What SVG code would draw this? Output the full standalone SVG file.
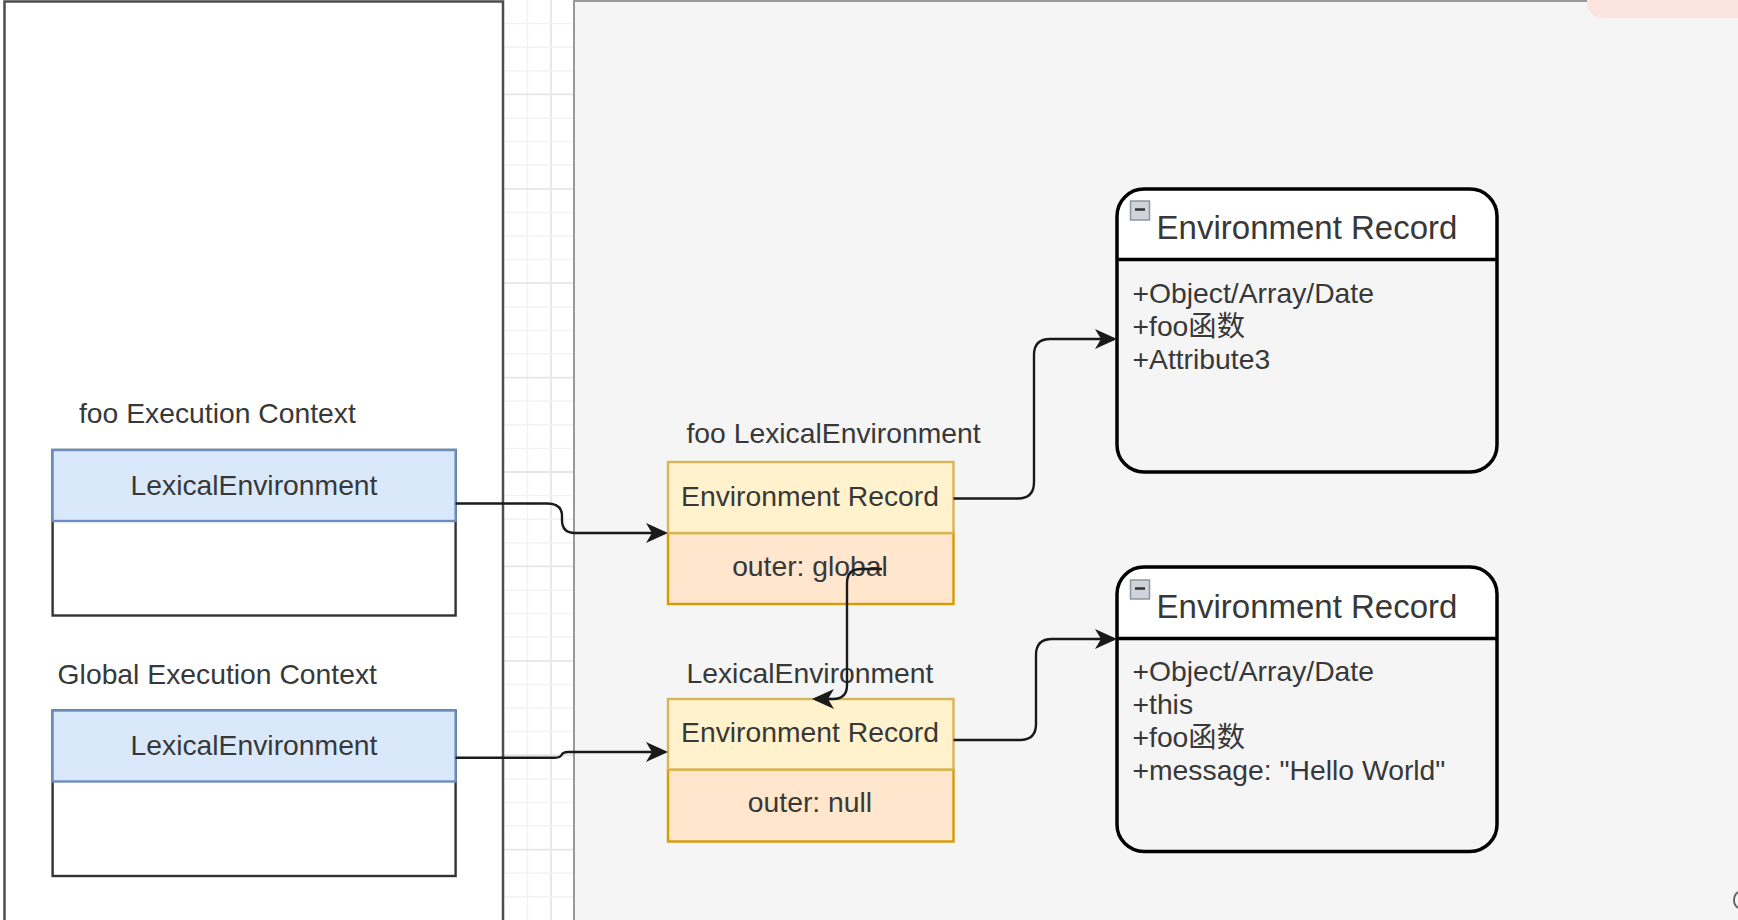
<svg xmlns="http://www.w3.org/2000/svg" width="1738" height="920" viewBox="0 0 1738 920">
<style>
  .t { font-family: "Liberation Sans", "Noto Sans CJK SC", sans-serif; fill: #383838; }
  .s28 { font-size: 28.3px; }
  .s33 { font-size: 33px; }
  .mid { text-anchor: middle; }
  .gmin { stroke: #f2f2f2; stroke-width: 1.5; }
  .gmaj { stroke: #e6e6e6; stroke-width: 1.8; }
  .conn { fill: none; stroke: #1a1a1a; stroke-width: 2.4; marker-end: url(#arr); }
  .blueh { fill: #dae8fc; stroke: #6c8ebf; stroke-width: 2.4; }
  .body { fill: #ffffff; stroke: #333333; stroke-width: 2.4; }
  .yel { fill: #fff2cc; stroke: #d6b656; stroke-width: 2.4; }
  .org { fill: #ffe6cc; stroke: #d79b00; stroke-width: 2.4; }
  .cls { stroke: #000000; stroke-width: 3.5; }
  .icon { fill: #d0d3da; stroke: #8e95a3; stroke-width: 1.5; }
</style>
<defs>
  <marker id="arr" viewBox="-25 -11 26 22" refX="-3" refY="0" markerWidth="26" markerHeight="22" markerUnits="userSpaceOnUse" orient="auto">
    <path d="M0,0 L-22,-10 L-16,0 L-22,10 Z" fill="#1a1a1a"/>
  </marker>
</defs>

<rect x="0" y="0" width="1738" height="920" fill="#ffffff"/>
<g id="grid">
  <line class="gmin" x1="527.4" y1="0" x2="527.4" y2="920"/>
  <line class="gmaj" x1="551" y1="0" x2="551" y2="920"/>
  <path class="gmin" d="M503,23.6H573M503,47.2H573M503,70.8H573M503,118H573M503,141.6H573M503,165.2H573M503,212.4H573M503,236H573M503,259.6H573M503,306.8H573M503,330.4H573M503,354H573M503,401.2H573M503,424.8H573M503,448.4H573M503,495.6H573M503,519.2H573M503,542.8H573M503,590H573M503,613.6H573M503,637.2H573M503,684.4H573M503,708H573M503,731.6H573M503,778.8H573M503,802.4H573M503,826H573M503,873.2H573M503,896.8H573"/>
  <path class="gmaj" d="M503,94.4H573M503,188.8H573M503,283.2H573M503,377.6H573M503,472H573M503,566.4H573M503,660.8H573M503,755.2H573M503,849.6H573"/>
</g>

<g id="left-panel">
  <rect x="4.5" y="1.5" width="498.5" height="940" fill="#ffffff" stroke="#4d4d4d" stroke-width="2.5"/>
</g>
<g id="right-panel">
  <rect x="574" y="1" width="1200" height="940" fill="#f5f5f5" stroke="#999999" stroke-width="2"/>
  <rect x="1587" y="-30" width="200" height="48" rx="15" fill="#fce4de"/>
  <path d="M1738,892 A10,10 0 0 0 1738,908" fill="none" stroke="#666666" stroke-width="2"/>
</g>

<g id="foo-execution-context">
  <text class="t s28" x="79" y="423">foo Execution Context</text>
  <rect class="body" x="52.6" y="450" width="403" height="165.5"/>
  <rect class="blueh" x="52.6" y="450" width="403" height="71"/>
  <text class="t s28 mid" x="254" y="494.5">LexicalEnvironment</text>
</g>

<g id="global-execution-context">
  <text class="t s28" x="57.6" y="683.5">Global Execution Context</text>
  <rect class="body" x="52.6" y="710.5" width="403" height="165.5"/>
  <rect class="blueh" x="52.6" y="710.5" width="403" height="71"/>
  <text class="t s28 mid" x="254" y="754.5">LexicalEnvironment</text>
</g>

<g id="foo-lexical-environment">
  <text class="t s28" x="686.5" y="442.5">foo LexicalEnvironment</text>
  <rect class="org" x="668" y="533" width="285.5" height="71"/>
  <rect class="yel" x="668" y="462" width="285.5" height="71"/>
  <text class="t s28 mid" x="810" y="506">Environment Record</text>
  <text class="t s28 mid" x="810" y="576">outer: global</text>
</g>

<g id="global-lexical-environment">
  <text class="t s28" x="686.5" y="682.5">LexicalEnvironment</text>
  <rect class="org" x="668" y="769.5" width="285.5" height="72"/>
  <rect class="yel" x="668" y="699" width="285.5" height="70.5"/>
  <text class="t s28 mid" x="810" y="742">Environment Record</text>
  <text class="t s28 mid" x="810" y="812">outer: null</text>
</g>

<g id="foo-environment-record">
  <rect x="1117" y="189" width="380" height="283" rx="27" fill="#f5f5f5"/>
  <path d="M1117,259.5 L1117,216 A27,27 0 0 1 1144,189 L1470,189 A27,27 0 0 1 1497,216 L1497,259.5 Z" fill="#ffffff"/>
  <rect class="cls" x="1117" y="189" width="380" height="283" rx="27" fill="none"/>
  <line class="cls" x1="1117" y1="259.5" x2="1497" y2="259.5"/>
  <rect class="icon" x="1130.5" y="201" width="19" height="19"/>
  <line x1="1135" y1="209.5" x2="1145" y2="209.5" stroke="#333333" stroke-width="2.5"/>
  <text class="t s33 mid" x="1307" y="239">Environment Record</text>
  <text class="t s28" x="1132.5" y="302.5">+Object/Array/Date</text>
  <text class="t s28" x="1132.5" y="335.5">+foo函数</text>
  <text class="t s28" x="1132.5" y="368.5">+Attribute3</text>
</g>

<g id="global-environment-record">
  <rect x="1117" y="567" width="380" height="284.5" rx="27" fill="#f5f5f5"/>
  <path d="M1117,638.5 L1117,594 A27,27 0 0 1 1144,567 L1470,567 A27,27 0 0 1 1497,594 L1497,638.5 Z" fill="#ffffff"/>
  <rect class="cls" x="1117" y="567" width="380" height="284.5" rx="27" fill="none"/>
  <line class="cls" x1="1117" y1="638.5" x2="1497" y2="638.5"/>
  <rect class="icon" x="1130.5" y="580" width="19" height="19"/>
  <line x1="1135" y1="588.5" x2="1145" y2="588.5" stroke="#333333" stroke-width="2.5"/>
  <text class="t s33 mid" x="1307" y="618">Environment Record</text>
  <text class="t s28" x="1132.5" y="681">+Object/Array/Date</text>
  <text class="t s28" x="1132.5" y="714">+this</text>
  <text class="t s28" x="1132.5" y="747">+foo函数</text>
  <text class="t s28" x="1132.5" y="780">+message: "Hello World"</text>
</g>

<g id="connectors">
  <path class="conn" d="M455.6,503.5 L547,503.5 Q562,503.5 562,516 L562,520 Q562,533 575,533 L665,533"/>
  <path class="conn" d="M455.6,757.7 L555,757.7 Q560,757.7 561.5,755 Q563,752 568,752 L665,752"/>
  <path class="conn" d="M953.5,498.5 L1018,498.5 Q1034,498.5 1034,482 L1034,355 Q1034,339 1050,339 L1114,339"/>
  <path class="conn" d="M953.5,740 L1020,740 Q1036,740 1036,724 L1036,655 Q1036,639 1052,639 L1114,639"/>
  <path class="conn" d="M882,569 L861,569 Q847,569 847,583 L847,685 Q847,699 833,699 L815,699"/>
</g>
</svg>
